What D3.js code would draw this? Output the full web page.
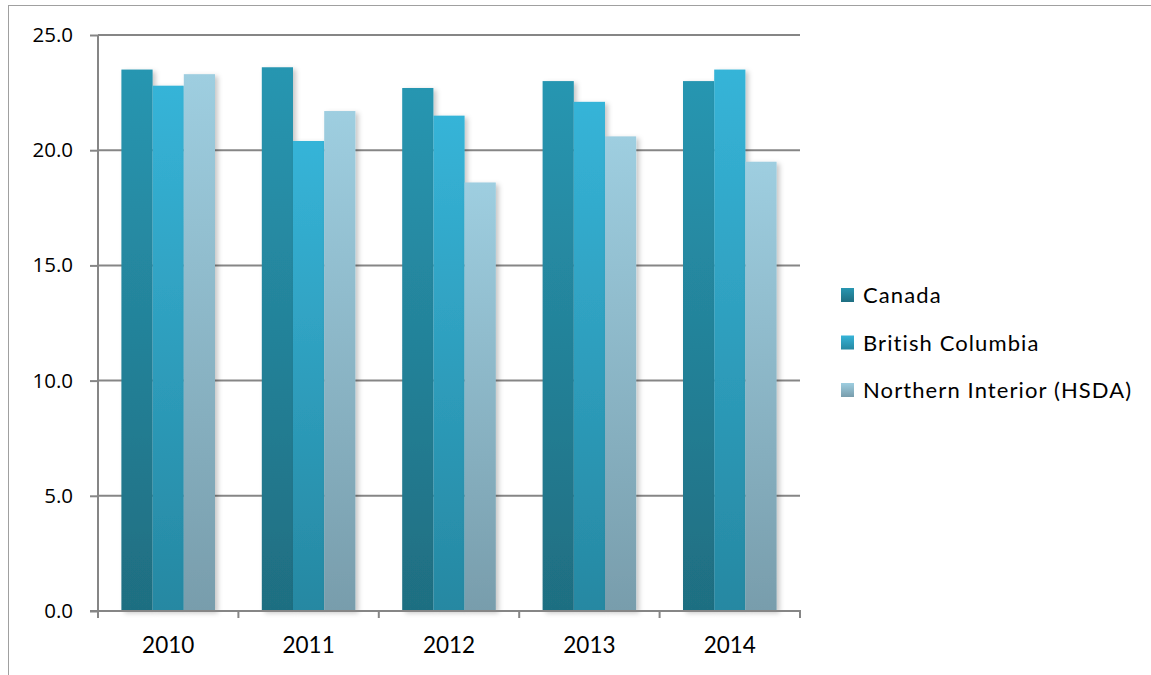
<!DOCTYPE html>
<html>
<head>
<meta charset="utf-8">
<script src="https://cdn.jsdelivr.net/npm/d3@7"></script>
<style>
  html, body { margin: 0; padding: 0; background: #fff; }
  svg { display: block; }
</style>
</head>
<body>
<svg id="chart" width="1151" height="675"></svg>
<script>
// Data
const years = ["2010", "2011", "2012", "2013", "2014"];
const seriesNames = ["Canada", "British Columbia", "Northern Interior (HSDA)"];
const canada = [23.5, 23.6, 22.7, 23.0, 23.0];
const britishColumbia = [22.8, 20.4, 21.5, 22.1, 23.5];
const northernInterior = [23.3, 21.7, 18.6, 20.6, 19.5];
const yTicks = [0, 5, 10, 15, 20, 25];

const seriesValues = [canada, britishColumbia, northernInterior];
// gradient stops per series: [top, bottom]
const seriesColors = [
  ["#2896B1", "#1F6E81"],
  ["#36B4D8", "#2688A2"],
  ["#9ECEE0", "#789DAC"]
];

const svg = d3.select("#chart");
const margin = { left: 98, right: 351, top: 35, bottom: 64 };
const W = 1151, H = 675;
const plotW = W - margin.left - margin.right;
const plotH = H - margin.top - margin.bottom;

const defs = svg.append("defs");
seriesColors.forEach((c, i) => {
  const g = defs.append("linearGradient")
    .attr("id", "grad" + i).attr("x1", 0).attr("y1", 0).attr("x2", 0).attr("y2", 1);
  g.append("stop").attr("offset", "0%").attr("stop-color", c[0]);
  g.append("stop").attr("offset", "100%").attr("stop-color", c[1]);
});
const shadow = defs.append("filter").attr("id", "shadow")
  .attr("x", "-20%").attr("y", "-5%").attr("width", "150%").attr("height", "110%");
shadow.append("feDropShadow").attr("dx", 3).attr("dy", 2)
  .attr("stdDeviation", 2.5).attr("flood-color", "#000").attr("flood-opacity", 0.22);

// outer frame
svg.append("rect")
  .attr("x", 8.5).attr("y", 5.5).attr("width", 1160).attr("height", 700)
  .attr("fill", "none").attr("stroke", "#A0A0A0").attr("stroke-width", 1);

const g = svg.append("g").attr("transform", `translate(${margin.left},${margin.top})`);

const x0 = d3.scaleBand().domain(years).range([0, plotW]).paddingInner(0).paddingOuter(0);
const x1 = d3.scaleBand().domain(d3.range(3)).range([0, x0.bandwidth()]).paddingInner(0).paddingOuter(0.75);
const y = d3.scaleLinear().domain([0, 25]).range([plotH, 0]);

// gridlines
g.append("g").selectAll("line").data(yTicks.filter(t => t > 0)).join("line")
  .attr("x1", 0).attr("x2", plotW)
  .attr("y1", d => y(d)).attr("y2", d => y(d))
  .attr("stroke", "#868686").attr("stroke-width", 2);

// bars
const groups = g.append("g").selectAll("g").data(years).join("g")
  .attr("transform", d => `translate(${x0(d)},0)`);
groups.selectAll("rect")
  .data((d, yi) => seriesValues.map((vals, si) => ({ si, v: vals[yi] })))
  .join("rect")
  .attr("x", d => x1(d.si))
  .attr("width", x1.bandwidth())
  .attr("y", d => y(d.v))
  .attr("height", d => plotH - y(d.v))
  .attr("fill", d => `url(#grad${d.si})`)
  .attr("filter", "url(#shadow)");

// y axis
const yAxis = d3.axisLeft(y).tickValues(yTicks).tickFormat(d3.format(".1f")).tickSize(8).tickSizeOuter(0);
const ya = g.append("g").call(yAxis);
ya.select(".domain").remove();
ya.selectAll(".tick line").attr("stroke", "#868686").attr("stroke-width", 2);
ya.selectAll(".tick text")
  .attr("x", -25)
  .attr("font-family", "'Open Sans', sans-serif").attr("font-size", 20.5).attr("fill", "#000");
g.append("line").attr("x1", 0).attr("x2", 0).attr("y1", 0).attr("y2", plotH + 7)
  .attr("stroke", "#868686").attr("stroke-width", 2);

// x axis
const xa = g.append("g").attr("transform", `translate(0,${plotH})`);
xa.append("line").attr("x1", -8).attr("x2", plotW + 1).attr("y1", 0).attr("y2", 0)
  .attr("stroke", "#868686").attr("stroke-width", 2);
xa.selectAll("line.tick").data(d3.range(years.length + 1)).join("line")
  .attr("class", "tick")
  .attr("x1", i => i * x0.step()).attr("x2", i => i * x0.step())
  .attr("y1", 0).attr("y2", 7)
  .attr("stroke", "#868686").attr("stroke-width", 2);
xa.selectAll("text").data(years).join("text")
  .attr("x", d => x0(d) + x0.bandwidth() / 2)
  .attr("y", 42)
  .attr("text-anchor", "middle")
  .attr("font-family", "Lato, sans-serif").attr("font-size", 22.5).attr("fill", "#000")
  .text(d => d);

// legend
const legend = svg.append("g").attr("transform", "translate(841,295)");
const li = legend.selectAll("g").data(seriesNames).join("g")
  .attr("transform", (d, i) => `translate(0,${i * 47.5})`);
li.append("rect").attr("x", 0).attr("y", -7).attr("width", 13).attr("height", 14)
  .attr("fill", (d, i) => `url(#grad${i})`);
li.append("text").attr("x", 22).attr("y", 8)
  .attr("font-family", "Lato, sans-serif").attr("font-size", 22)
  .attr("letter-spacing", 1.1).attr("fill", "#000")
  .text(d => d);
</script>
</body>
</html>
